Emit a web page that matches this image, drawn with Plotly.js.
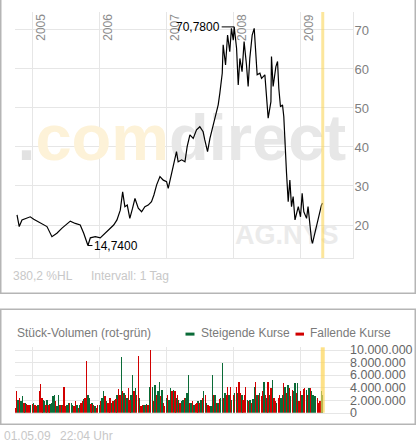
<!DOCTYPE html>
<html><head><meta charset="utf-8">
<script src="https://cdn.plot.ly/plotly-3.0.1.min.js"></script>
<style>html,body{margin:0;padding:0;background:#fff;overflow:hidden}#chart{width:417px;height:443px}</style>
</head><body><div id="chart"></div>
<script>
// ---------- DATA ----------
const priceDates = [
'2004-10-10','2004-10-22','2004-11-06','2004-11-24','2004-12-21',
'2005-01-09','2005-02-05','2005-03-04','2005-03-22','2005-04-18','2005-05-15','2005-06-12','2005-07-09','2005-07-27','2005-08-23','2005-09-19','2005-10-08','2005-10-31','2005-11-13','2005-12-10',
'2006-01-06','2006-02-02','2006-03-01','2006-03-20','2006-04-07','2006-04-25','2006-05-08','2006-05-20','2006-06-02','2006-06-16','2006-07-01','2006-07-14','2006-08-01','2006-08-19','2006-09-06','2006-09-24','2006-10-12','2006-10-25','2006-11-09','2006-11-27','2006-12-15',
'2007-01-02','2007-01-11','2007-01-24','2007-02-07','2007-02-25','2007-03-06','2007-03-25','2007-04-12','2007-04-24','2007-05-09','2007-05-27','2007-06-14','2007-07-02','2007-07-20','2007-07-29','2007-08-13','2007-08-26','2007-09-13','2007-09-26','2007-10-10','2007-10-19','2007-11-01','2007-11-06','2007-11-19','2007-11-30','2007-12-12','2007-12-21','2007-12-31',
'2008-01-05','2008-01-18','2008-01-27','2008-02-05','2008-02-17','2008-02-28','2008-03-12','2008-03-21','2008-03-30','2008-04-12','2008-04-23','2008-04-30','2008-05-09','2008-05-24','2008-06-02','2008-06-20','2008-06-29','2008-07-08','2008-07-23','2008-07-26','2008-08-04','2008-08-19','2008-08-28','2008-09-04','2008-09-13','2008-09-24','2008-10-01','2008-10-07','2008-10-16','2008-10-25','2008-11-03','2008-11-12','2008-11-21','2008-12-01','2008-12-10','2008-12-19','2008-12-31',
'2009-01-09','2009-01-18','2009-02-02','2009-02-10','2009-02-20','2009-03-01','2009-03-06','2009-03-19','2009-03-28','2009-04-06','2009-04-15','2009-04-24','2009-04-30'
];
const priceValues = [
22.6,19.6,21.3,21.7,22.1,
21.5,20.8,20.0,19.6,17.0,17.9,19.2,20.4,21.0,20.4,20.0,17.9,14.74,16.7,17.0,
16.7,17.9,19.2,20.0,21.3,23.8,28.5,24.7,25.1,21.7,24.3,26.8,24.3,23.4,24.7,25.1,26.0,27.7,30.3,32.4,31.5,
31.1,29.4,32.4,35.0,38.8,36.2,36.7,36.2,40.1,43.1,42.2,44.4,45.2,43.9,41.8,38.8,42.2,45.6,48.2,50.8,53.8,58.9,66.2,61.0,68.7,64.4,70.4,67.4,
70.78,65.3,55.9,62.7,59.3,67.0,61.0,55.5,62.7,68.7,70.4,63.6,58.5,58.9,57.6,58.5,52.5,47.4,51.6,63.2,55.5,60.6,61.9,55.0,50.3,50.8,47.8,40.0,33.2,26.0,31.5,24.7,27.3,21.3,23.4,24.7,22.1,
28.1,23.4,21.7,24.7,19.6,16.2,15.3,17.9,20.0,21.7,23.0,25.1,25.6
];
// volume: four bars per month (1st, 8th, 16th, 23rd), values in millions of shares
const volMonths = [
'2004-10','2004-11','2004-12',
'2005-01','2005-02','2005-03','2005-04','2005-05','2005-06','2005-07','2005-08','2005-09','2005-10','2005-11','2005-12',
'2006-01','2006-02','2006-03','2006-04','2006-05','2006-06','2006-07','2006-08','2006-09','2006-10','2006-11','2006-12',
'2007-01','2007-02','2007-03','2007-04','2007-05','2007-06','2007-07','2007-08','2007-09','2007-10','2007-11','2007-12',
'2008-01','2008-02','2008-03','2008-04','2008-05','2008-06','2008-07','2008-08','2008-09','2008-10','2008-11','2008-12',
'2009-01','2009-02','2009-03','2009-04','2009-05'
];
const volDays = ['01','08','16','23'];
const volMillions = [
0.8,3.4,2.0,2.4, 1.8,2.6,1.5,1.6, 1.4,1.3,1.2,1.2,
1.4,1.6,1.3,1.1, 1.2,3.5,4.6,2.3, 2.0,1.9,1.3,2.0, 1.2,1.4,1.5,2.7, 2.9,1.8,1.1,2.9, 1.2,1.2,1.3,4.1,
1.0,1.3,1.5,1.6, 1.5,1.3,1.1,1.8, 1.2,0.7,1.2,1.5, 1.8,2.2,2.3,8.2, 2.9,2.4,1.4,1.5, 1.2,1.1,0.8,1.2,
1.3,1.8,2.4,3.4, 2.7,1.8,1.6,1.5, 2.3,1.5,1.9,2.0, 2.2,2.8,3.8,2.9, 8.9,3.5,3.1,2.8, 2.4,4.0,2.0,2.9,
6.0,3.5,4.0,2.8, 9.0,2.4,1.1,1.2, 1.3,1.2,1.4,1.3, 4.1,10.0,4.1,1.8, 4.4,2.8,3.5,4.9, 2.6,3.6,1.5,1.0,
2.3,2.9,2.0,4.0, 3.4,3.6,3.4,2.4, 2.9,2.0,1.5,1.8, 2.0,2.3,2.3,3.1, 6.0,1.6,1.5,1.9, 1.3,1.4,1.5,1.8,
1.6,2.0,2.4,3.4, 2.8,1.5,1.3,1.0, 1.1,6.0,2.8,2.8, 1.5,1.6,2.2,2.3, 7.9,2.3,3.2,2.9, 4.1,2.8,4.1,2.0,
2.8,3.2,4.1,3.1, 4.9,3.1,2.8,2.0, 2.9,4.1,2.0,1.9, 2.0,1.6,2.2,4.1, 4.9,2.9,2.8,3.2, 2.7,3.4,4.9,2.9,
2.3,4.9,2.8,3.9, 5.2,2.4,1.8,1.5, 2.3,2.9,2.3,2.8, 4.7,4.1,3.1,4.4, 3.9,2.7,3.6,3.4, 4.7,3.1,4.7,1.8,
3.4,2.8,3.8,4.0, 3.6,2.8,3.9,4.0, 3.5,2.9,2.7,2.6, 2.3,1.6,1.8,3.5, 2.8
];
// g = Steigende Kurse (rising), r = Fallende Kurse (falling)
const volDirection =
'rrgr ggrg rrrg ' +
'rgrr grrr ggrg rggg grgg rgrr rggr ggrr grgr rgrr ggrg rgrr ' +
'grgg rgrr rgrg rgrr grgr grrg grgr rgrr grgr grgr grgg rgrr ' +
'grgg rgrg rgrg grgg grgr grrg rgrg rgrr ggrg rgrg grgr rgrg ' +
'rgrg rrgr rrgr grgg rgrg rrgr grgr grrg rrgg rgrg rgrg grgr ' +
'rgrr grgr gggg rrrg g';
const seriesNames = ['Steigende Kurse', 'Fallende Kurse'];
const yearTicks = ['2005-01-01','2006-01-01','2007-01-01','2008-01-01','2009-01-01'];
const yearLabels = ['2005','2006','2007','2008','2009'];
const priceTicks = [20,30,40,50,60,70];
const volTicks = [0,2000000,4000000,6000000,8000000,10000000];
const currentDate = '2009-05-01';
const rangeText = '380,2 %HL';
const intervalText = 'Intervall: 1 Tag';
const volumeTitle = 'Stück-Volumen (rot-grün)';
const stampDate = '01.05.09';
const stampTime = '22:04 Uhr';

// ---------- BUILD ----------
const W = 417, H = 443;
const PX = x => x / W, PY = y => 1 - y / H;
const xRange = ['2004-09-29', '2009-10-12 17:00'];

const volDates = volMonths.flatMap(m => volDays.map(d => m + '-' + d)).slice(0, volMillions.length);
const dirs = volDirection.replace(/\s/g, '').split('');
const up = {x: [], y: []}, down = {x: [], y: []};
volMillions.forEach((v, i) => {
  const t = dirs[i] === 'g' ? up : down;
  t.x.push(volDates[i]); t.y.push(v * 1e6);
});
const GREEN = '#0a6b37', RED = '#d10000';
const barW = 7.6 * 864e5;

const iMax = priceValues.indexOf(Math.max(...priceValues));
const iMin = priceValues.indexOf(Math.min(...priceValues));
const fmt = v => v.toFixed(4).replace('.', ',');

const traces = [
  {x: ['2004-10-12'], y: [40.8], mode: 'text', xaxis: 'x', yaxis: 'y',
   text: ['<b><span style="color:#e2e2e2">.</span><span style="color:#fdf2d8">com</span>direct</b>'],
   textposition: 'middle right',
   textfont: {family: 'Liberation Sans, Arial, sans-serif', size: 65, color: '#e7e7e7'},
   hoverinfo: 'skip', showlegend: false},
  {x: ['2008-01-09'], y: [16.9], mode: 'text', xaxis: 'x', yaxis: 'y',
   text: ['<b>AG.NYS</b>'], textposition: 'middle right',
   textfont: {family: 'Liberation Sans, Arial, sans-serif', size: 27, color: '#ebebeb'},
   hoverinfo: 'skip', showlegend: false},
  {x: priceDates, y: priceValues, mode: 'lines', xaxis: 'x', yaxis: 'y',
   line: {color: '#000', width: 1.2}, hoverinfo: 'skip', showlegend: false},
  {type: 'bar', name: seriesNames[0], x: up.x, y: up.y, xaxis: 'x2', yaxis: 'y2', width: barW,
   marker: {color: GREEN, line: {width: 0}}, showlegend: false, hoverinfo: 'skip'},
  {type: 'bar', name: seriesNames[1], x: down.x, y: down.y, xaxis: 'x2', yaxis: 'y2', width: barW,
   marker: {color: RED, line: {width: 0}}, showlegend: false, hoverinfo: 'skip'}
];

const gridC = '#e6e6e6';
const axX = {type: 'date', range: xRange, domain: [PX(15), PX(353)], tickvals: yearTicks,
  showticklabels: false, ticks: '', showgrid: true, gridcolor: gridC, gridwidth: 1, automargin: false,
  zeroline: false, showline: true, linecolor: gridC, linewidth: 1, fixedrange: true};

const note = (x, y, text, color, extra) => Object.assign({x: PX(x), y: PY(y), xref: 'paper', yref: 'paper',
  text: text, showarrow: false, xanchor: 'left', yanchor: 'middle', font: {size: 12, color: color}}, extra || {});

const annotations = yearTicks.map((d, i) => ({
  x: d, xref: 'x', y: PY(13), yref: 'paper', text: yearLabels[i], textangle: -90,
  xanchor: 'left', yanchor: 'top', showarrow: false, borderpad: 0,
  font: {size: 12, color: '#8c8c8c'}
}));
annotations.push(
  {x: priceDates[iMax], y: priceValues[iMax], xref: 'x', yref: 'y', text: fmt(priceValues[iMax]),
   showarrow: true, arrowhead: 0, arrowwidth: 1, arrowcolor: '#000', ax: -36, ay: 0, standoff: 0,
   font: {size: 12, color: '#000'}},
  {x: priceDates[iMin], y: priceValues[iMin], xref: 'x', yref: 'y', text: fmt(priceValues[iMin]),
   showarrow: true, arrowhead: 0, arrowwidth: 1, arrowcolor: '#000', ax: 28, ay: 0, standoff: 0,
   font: {size: 12, color: '#000'}},
  note(11, 276, rangeText, '#c8c8c8'),
  note(89, 276, intervalText, '#c8c8c8'),
  note(15, 333, volumeTitle, '#7a7a7a'),
  note(199, 333, seriesNames[0], '#7a7a7a'),
  note(308, 333, seriesNames[1], '#7a7a7a'),
  note(2, 436, stampDate, '#c8c8c8'),
  note(58, 436, stampTime, '#c8c8c8')
);

const swatch = (x0, x1, color) => ({type: 'rect', xref: 'paper', yref: 'paper',
  x0: PX(x0), x1: PX(x1), y0: PY(335.6), y1: PY(332.6), fillcolor: color, line: {width: 0}});

const shapes = [
  {type: 'rect', xref: 'paper', yref: 'paper', x0: PX(0.75), x1: PX(415.25), y0: PY(293.25), y1: PY(-3),
   line: {color: '#b5b5b5', width: 1.5}, layer: 'below'},
  {type: 'rect', xref: 'paper', yref: 'paper', x0: PX(0.75), x1: PX(415.25), y0: PY(424.25), y1: PY(309.25),
   line: {color: '#b5b5b5', width: 1.5}, layer: 'below'},
  swatch(185.5, 194.5, GREEN),
  swatch(295.5, 304, RED),
  {type: 'line', xref: 'x', yref: 'y domain', x0: currentDate, x1: currentDate, y0: 0, y1: 1,
   line: {color: 'rgba(250,214,90,0.6)', width: 3}, layer: 'above'},
  {type: 'line', xref: 'x2', yref: 'y2 domain', x0: currentDate, x1: currentDate, y0: 0, y1: 1,
   line: {color: 'rgba(252,214,90,0.72)', width: 4}, layer: 'above'}
];

const layout = {
  width: W, height: H, margin: {l: 0, r: 0, t: 0, b: 0, autoexpand: false},
  paper_bgcolor: '#fff', plot_bgcolor: 'rgba(0,0,0,0)',
  separators: ',.',
  font: {family: 'Liberation Sans, Arial, sans-serif', size: 12, color: '#777'},
  xaxis: Object.assign({}, axX, {anchor: 'y'}),
  yaxis: {domain: [PY(258), PY(12)], range: [11.54, 74.6], side: 'right', anchor: 'x',
    tickvals: priceTicks, ticks: '', showgrid: true, gridcolor: gridC, zeroline: false, automargin: false,
    showline: true, linecolor: gridC, linewidth: 1, fixedrange: true, ticklabelstandoff: -2,
    tickfont: {size: 13, color: '#808080'}},
  xaxis2: Object.assign({}, axX, {anchor: 'y2', matches: 'x'}),
  yaxis2: {domain: [PY(412.7), PY(347.3)], range: [0, 10430000], side: 'right', anchor: 'x2',
    tickvals: volTicks, tickformat: ',d', ticks: '', showgrid: true, gridcolor: gridC, zeroline: false,
    automargin: false, ticklabelstandoff: -4,
    showline: false, fixedrange: true, tickfont: {size: 12.5, color: '#666'}},
  barmode: 'overlay', bargap: 0,
  showlegend: false,
  shapes: shapes, annotations: annotations
};

Plotly.newPlot('chart', traces, layout, {displayModeBar: false, staticPlot: true});
</script>
</body></html>
